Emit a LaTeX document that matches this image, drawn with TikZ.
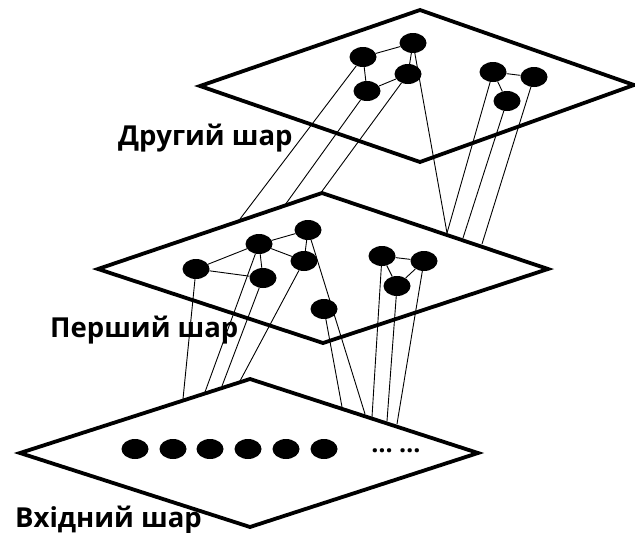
\documentclass[tikz,border=0pt]{standalone}
\usepackage{fontspec}
\setmainfont{Open Sans}
\usetikzlibrary{shapes.geometric}
\tikzset{
  plane/.style={line width=3.8pt, line join=miter, fill=white},
  neuron/.style={ellipse, fill=black, inner sep=0pt, minimum width=27pt, minimum height=20pt},
  link/.style={line width=0.9pt},
  layerlabel/.style={font=\bfseries\fontsize{27.5}{30}\selectfont, inner sep=0pt, anchor=base west},
}
\begin{document}
\begin{tikzpicture}[x=1pt,y=-1pt]
\useasboundingbox (0,0) rectangle (635,533);

% ---------- top plane (Другий шар)
\draw[plane] (200,86) -- (420,10) -- (634,85) -- (420,162) -- cycle;
\node[neuron] (A1) at (363,57) {};
\node[neuron] (A2) at (413,43) {};
\node[neuron] (A3) at (408,74) {};
\node[neuron] (A4) at (367,91) {};
\node[neuron] (B1) at (493,72) {};
\node[neuron] (B2) at (534,77) {};
\node[neuron] (B3) at (507,101) {};

% end points on the middle plane edge
\coordinate (t1) at (240,219);
\coordinate (t2) at (285,205);
\coordinate (t3) at (320,194);
\coordinate (t4) at (447,233);
\coordinate (t5) at (463,238);
\coordinate (t6) at (482,244);

% end points on the bottom plane edge
\coordinate (m1) at (183,399);
\coordinate (m2) at (205,392);
\coordinate (m3) at (222,386);
\coordinate (m4) at (240,381);
\coordinate (m5) at (342,407);
\coordinate (m6) at (365,414);
\coordinate (m7) at (372,417);
\coordinate (m8) at (387,421);
\coordinate (m9) at (397,424);

% top-layer edges and links down
\draw[link] (A1) -- (A2);
\draw[link] (A1) -- (A4);
\draw[link] (A4) -- (A3);
\draw[link] (A2) -- (A3);
\draw[link] (B1) -- (B2);
\draw[link] (B1) -- (B3);
\draw[link] (A1) -- (t1);
\draw[link] (A4) -- (t2);
\draw[link] (A3) -- (t3);
\draw[link] (A2) -- (t4);
\draw[link] (B1) -- (t4);
\draw[link] (B3) -- (t5);
\draw[link] (B2) -- (t6);

% ---------- middle plane (Перший шар)
\draw[plane] (98,269) -- (322,193) -- (548,269) -- (323,343) -- cycle;
\node[neuron] (C1) at (196,269) {};
\node[neuron] (C2) at (259,244) {};
\node[neuron] (C3) at (308,230) {};
\node[neuron] (C4) at (304,261) {};
\node[neuron] (C5) at (263,278) {};
\node[neuron] (C6) at (324,309) {};
\node[neuron] (D1) at (382,256) {};
\node[neuron] (D2) at (424,261) {};
\node[neuron] (D3) at (397,286) {};

\draw[link] (C1) -- (C2);
\draw[link] (C1) -- (C5);
\draw[link] (C2) -- (C3);
\draw[link] (C2) -- (C4);
\draw[link] (C2) -- (C5);
\draw[link] (C3) -- (C4);
\draw[link] (D1) -- (D2);
\draw[link] (D1) -- (D3);
\draw[link] (D2) -- (D3);
\draw[link] (C1) -- (m1);
\draw[link] (C2) -- (m2);
\draw[link] (C5) -- (m3);
\draw[link] (C4) -- (m4);
\draw[link] (C6) -- (m5);
\draw[link] (C3) -- (m6);
\draw[link] (D1) -- (m7);
\draw[link] (D3) -- (m8);
\draw[link] (D2) -- (m9);

% ---------- bottom plane (Вхідний шар)
\draw[plane] (20,453) -- (250,379) -- (478,453) -- (250,527) -- cycle;
\node[neuron] (E1) at (135,449) {};
\node[neuron] (E2) at (173,449) {};
\node[neuron] (E3) at (210,449) {};
\node[neuron] (E4) at (248,449) {};
\node[neuron] (E5) at (286,449) {};
\node[neuron] (E6) at (324,449) {};
\node[font=\bfseries\fontsize{25}{26}\selectfont, inner sep=0pt, anchor=base] (dots) at (396,452) {… …};

% ---------- labels
\node[layerlabel] (L2) at (118,145) {Другий шар};
\node[layerlabel] (L1) at (50,337) {Перший шар};
\node[layerlabel] (L0) at (15,527) {Вхідний шар};
\end{tikzpicture}
\end{document}
